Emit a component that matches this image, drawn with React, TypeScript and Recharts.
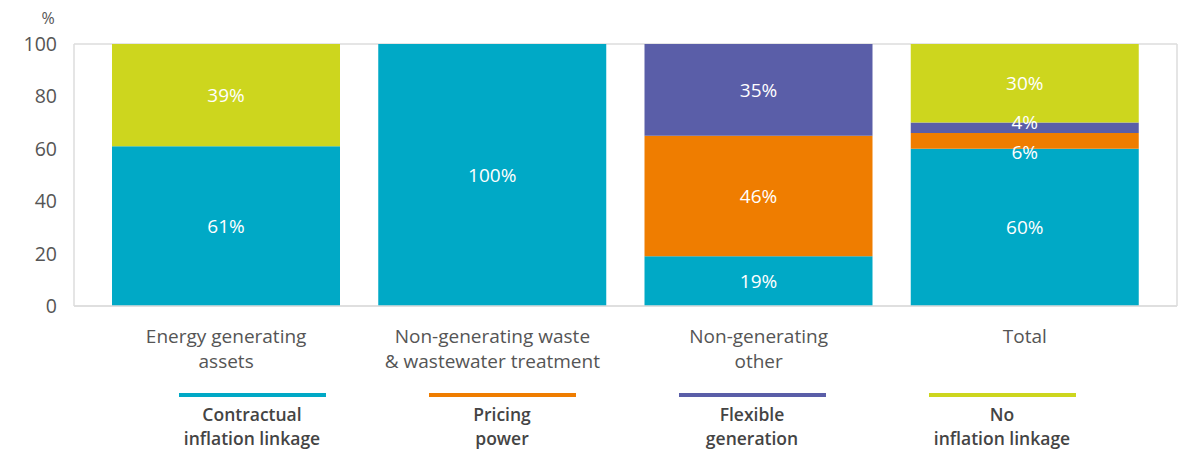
import { BarChart, Bar, XAxis, YAxis, CartesianGrid, Legend, LabelList, Label } from "recharts";

const categories = ["Energy generating\nassets", "Non-generating waste\n& wastewater treatment", "Non-generating\nother", "Total"];
const contractual = [61, 100, 19, 60];
const pricing = [0, 0, 46, 6];
const flexible = [0, 0, 35, 4];
const noLinkage = [39, 0, 0, 30];
const yTicks = [0, 20, 40, 60, 80, 100];

const series = [
  { key: "contractual", name: "Contractual\ninflation linkage", color: "#00A9C6", shift: 0 },
  { key: "pricing", name: "Pricing\npower", color: "#EF7D00", shift: 1 },
  { key: "flexible", name: "Flexible\ngeneration", color: "#5A5EA8", shift: -1 },
  { key: "noLinkage", name: "No\ninflation linkage", color: "#CDD61E", shift: 0 },
];

const data = categories.map((c, i) => ({
  name: c,
  contractual: contractual[i],
  pricing: pricing[i],
  flexible: flexible[i],
  noLinkage: noLinkage[i],
}));

const FONT = "'Open Sans', sans-serif";

// small segments push their label off-centre (up for flexible, down for pricing)
const makeLabel = (shift: number) => (props: any) => {
  const { x, y, width, height, value } = props;
  if (!value) return null;
  let cy = y + height / 2;
  if (height < 20 && shift < 0) cy = y - 1;
  if (height < 20 && shift > 0) cy = y + height + 3;
  return (
    <text x={x + width / 2} y={cy} fill="#fff" fontSize={19} fontFamily={FONT} textAnchor="middle" dominantBaseline="central">
      {value}%
    </text>
  );
};

const CategoryTick = (props: any) => {
  const { x, y, payload } = props;
  const lines = String(payload.value).split("\n");
  return (
    <g>
      {lines.map((l, i) => (
        <text key={i} x={x} y={y + 22 + i * 25} fill="#555" fontSize={19} fontFamily={FONT} textAnchor="middle" dominantBaseline="central">
          {l}
        </text>
      ))}
    </g>
  );
};

const LegendContent = () => (
  <div style={{ display: "flex", paddingLeft: 119, fontFamily: FONT }}>
    {series.map((s) => (
      <div key={s.key} style={{ width: 250, textAlign: "center" }}>
        <div style={{ width: 147, height: 4, background: s.color, margin: "0 auto 5px" }} />
        {s.name.split("\n").map((l, i) => (
          <div key={i} style={{ fontSize: 17.5, lineHeight: "24px", color: "#444", fontWeight: 600 }}>{l}</div>
        ))}
      </div>
    ))}
  </div>
);

export default function App() {
  return (
    <div style={{ width: 1181, height: 441 }}>
      <BarChart width={1181} height={441} data={data} margin={{ top: 36, right: 11, bottom: 13, left: 0 }}>
        <CartesianGrid vertical={false} stroke="#dcdcdc" strokeWidth={1.5} />
        <XAxis
          dataKey="name"
          interval={0}
          height={60}
          padding={{ left: 19, right: 19 }}
          axisLine={{ stroke: "#dcdcdc", strokeWidth: 1.5 }}
          tickLine={false}
          tick={<CategoryTick />}
        />
        <YAxis
          yAxisId="left"
          domain={[0, 100]}
          ticks={yTicks}
          width={66}
          tickSize={0}
          tickMargin={17}
          axisLine={{ stroke: "#dcdcdc", strokeWidth: 1.5 }}
          tickLine={false}
          tick={{ fill: "#555", fontSize: 19.5, fontFamily: FONT }}
        >
          <Label
            content={() => (
              <text x={40} y={10} fill="#555" fontSize={16} fontFamily={FONT} textAnchor="middle" dominantBaseline="central">%</text>
            )}
          />
        </YAxis>
        <YAxis
          yAxisId="right"
          orientation="right"
          domain={[0, 100]}
          width={1}
          tick={false}
          tickLine={false}
          axisLine={{ stroke: "#dcdcdc", strokeWidth: 1.5 }}
        />
        <Legend height={70} content={<LegendContent />} wrapperStyle={{ top: 385, bottom: "auto", left: 0, width: 1181 }} />
        {series.map((s) => (
          <Bar key={s.key} yAxisId="left" dataKey={s.key} name={s.name} stackId="a" fill={s.color} barSize={228} isAnimationActive={false}>
            <LabelList dataKey={s.key} content={makeLabel(s.shift)} />
          </Bar>
        ))}
      </BarChart>
    </div>
  );
}
